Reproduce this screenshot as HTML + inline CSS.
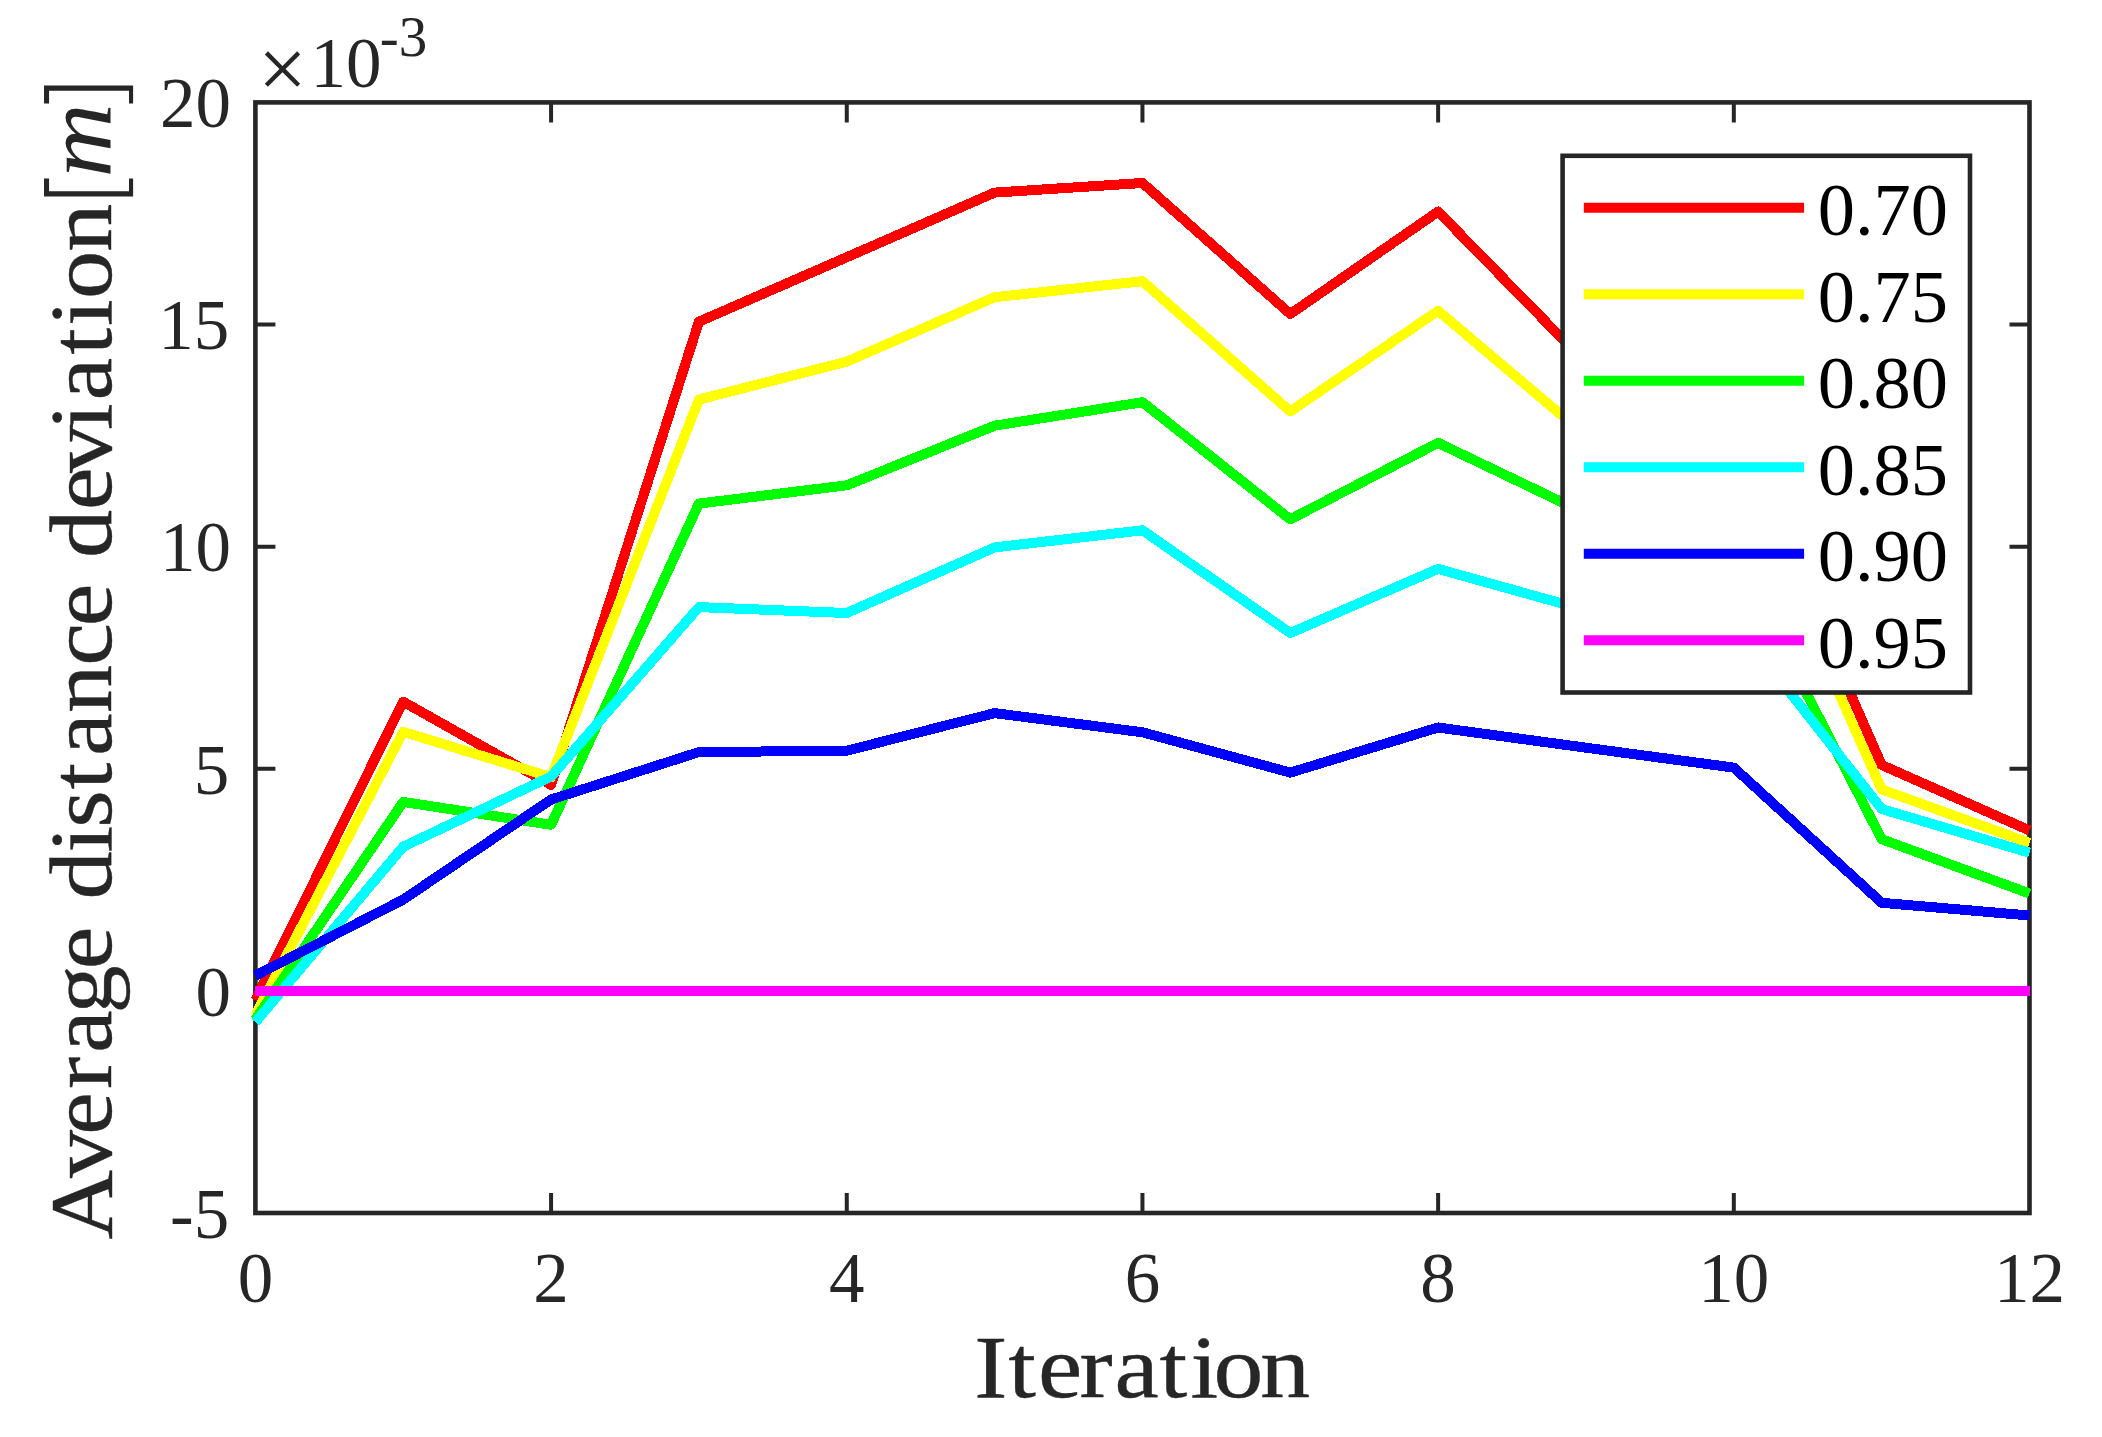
<!DOCTYPE html>
<html lang="en"><head><meta charset="utf-8"><title>Average distance deviation</title>
<style>
html,body{margin:0;padding:0;background:#fff;}
body{width:2102px;height:1437px;overflow:hidden;}
svg{display:block;}
.t{font-family:"Liberation Serif","DejaVu Serif",serif;fill:#262626;}
.l{font-family:"Liberation Serif","DejaVu Serif",serif;fill:#000;}
</style></head><body>
<svg width="2102" height="1437" viewBox="0 0 2102 1437">
<rect x="0" y="0" width="2102" height="1437" fill="#ffffff"/>
<g stroke="#262626" stroke-width="4.60" fill="none" stroke-linecap="butt">
<rect x="255.40" y="102.40" width="1774.10" height="1110.60"/>
</g><g stroke="#262626" stroke-width="4.00" fill="none">
<path d="M551.08 1213.00V1193.00M551.08 102.40V122.40"/>
<path d="M846.77 1213.00V1193.00M846.77 102.40V122.40"/>
<path d="M1142.45 1213.00V1193.00M1142.45 102.40V122.40"/>
<path d="M1438.13 1213.00V1193.00M1438.13 102.40V122.40"/>
<path d="M1733.82 1213.00V1193.00M1733.82 102.40V122.40"/>
<path d="M255.40 991.00H275.40M2029.50 991.00H2009.50"/>
<path d="M255.40 768.85H275.40M2029.50 768.85H2009.50"/>
<path d="M255.40 546.70H275.40M2029.50 546.70H2009.50"/>
<path d="M255.40 324.55H275.40M2029.50 324.55H2009.50"/>
</g>
<g fill="none" stroke-width="10" stroke-linejoin="round" stroke-linecap="butt" shape-rendering="crispEdges">
<polyline stroke="#ff0000" points="255.4,1000.0 403.2,701.7 551.1,784.9 698.9,321.7 846.8,257.2 994.6,192.6 1142.5,183.0 1290.3,314.0 1438.1,211.6 1586.0,363.0 1733.8,428.0 1881.7,765.0 2029.5,830.5"/>
<polyline stroke="#ffff00" points="255.4,1015.0 403.2,731.8 551.1,777.1 698.9,399.6 846.8,361.6 994.6,297.2 1142.5,281.2 1290.3,411.4 1438.1,310.8 1586.0,435.9 1733.8,457.0 1881.7,789.4 2029.5,842.9"/>
<polyline stroke="#00ff00" points="255.4,1019.5 403.2,801.9 551.1,824.8 698.9,503.6 846.8,485.3 994.6,425.7 1142.5,402.2 1290.3,519.3 1438.1,442.9 1586.0,513.7 1733.8,552.5 1881.7,839.2 2029.5,893.5"/>
<polyline stroke="#00ffff" points="255.4,1022.1 403.2,846.7 551.1,776.5 698.9,607.1 846.8,613.0 994.6,547.4 1142.5,530.3 1290.3,633.0 1438.1,568.9 1586.0,610.2 1733.8,621.3 1881.7,809.0 2029.5,852.7"/>
<polyline stroke="#0000ff" points="255.4,975.6 403.2,899.6 551.1,799.5 698.9,752.1 846.8,750.7 994.6,713.1 1142.5,732.3 1290.3,772.6 1438.1,727.5 1586.0,747.7 1733.8,767.6 1881.7,902.8 2029.5,915.5"/>
<polyline stroke="#ff00ff" points="255.4,991.0 403.2,991.0 551.1,991.0 698.9,991.0 846.8,991.0 994.6,991.0 1142.5,991.0 1290.3,991.0 1438.1,991.0 1586.0,991.0 1733.8,991.0 1881.7,991.0 2029.5,991.0"/>
</g>
<g class="t" font-size="71" text-anchor="middle">
<text x="255.4" y="1301.8">0</text>
<text x="551.1" y="1301.8">2</text>
<text x="846.8" y="1301.8">4</text>
<text x="1142.5" y="1301.8">6</text>
<text x="1438.1" y="1301.8">8</text>
<text x="1733.8" y="1301.8">10</text>
<text x="2029.5" y="1301.8">12</text>
</g>
<g class="t" font-size="71" text-anchor="end">
<text x="229.2" y="1237.8">-5</text>
<text x="231.0" y="1015.6">0</text>
<text x="229.2" y="793.5">5</text>
<text x="231.0" y="571.3">10</text>
<text x="229.2" y="349.1">15</text>
<text x="231.0" y="127.0">20</text>
</g>
<text class="t" x="257.9" y="98.3" font-size="86.7">×<tspan x="310.5" y="87.1" font-size="71">10</tspan><tspan x="379.7" y="55.5" font-size="57">-3</tspan></text>
<text class="t" stroke="#262626" stroke-width="0.4" font-size="89" transform="translate(974.36 1396.6) scale(1.1194 1)" x="0.00 30.37 56.82 93.97 125.11 165.44 193.04 213.61 255.34" y="0">Iteration</text>
<text class="t" stroke="#262626" stroke-width="0.4" font-size="89" transform="translate(111.00 1239.39) rotate(-90) scale(1.0819 1)" x="0.00 56.67 96.78 138.93 172.23 208.85 249.75 249.75 314.13 357.53 380.40 415.72 446.88 486.58 530.19 566.64 566.64 629.87 674.18 708.48 748.23 775.42 817.78 844.17 869.17 912.77 952.64 981.62 1038.64" y="0">Average distance deviation<tspan font-family="'DejaVu Sans Light','DejaVu Sans',sans-serif" font-weight="200" stroke="none" font-size="100" dy="8.8">[</tspan><tspan font-style="italic" stroke="none" font-size="95" dy="-8.8">m</tspan><tspan font-family="'DejaVu Sans Light','DejaVu Sans',sans-serif" font-weight="200" stroke="none" font-size="100" dy="8.8">]</tspan></text>
<rect x="1562.6" y="155.8" width="407.4" height="536.7" fill="#fff" stroke="#262626" stroke-width="4.60"/>
<g class="l" font-size="74.5">
<path d="M1583.8 207.8H1804.1" stroke="#ff0000" stroke-width="10" fill="none"/>
<text x="1817.7" y="235.4">0.70</text>
<path d="M1583.8 294.3H1804.1" stroke="#ffff00" stroke-width="10" fill="none"/>
<text x="1817.7" y="321.9">0.75</text>
<path d="M1583.8 380.8H1804.1" stroke="#00ff00" stroke-width="10" fill="none"/>
<text x="1817.7" y="408.4">0.80</text>
<path d="M1583.8 467.3H1804.1" stroke="#00ffff" stroke-width="10" fill="none"/>
<text x="1817.7" y="494.9">0.85</text>
<path d="M1583.8 553.8H1804.1" stroke="#0000ff" stroke-width="10" fill="none"/>
<text x="1817.7" y="581.4">0.90</text>
<path d="M1583.8 640.3H1804.1" stroke="#ff00ff" stroke-width="10" fill="none"/>
<text x="1817.7" y="667.9">0.95</text>
</g>
</svg></body></html>
